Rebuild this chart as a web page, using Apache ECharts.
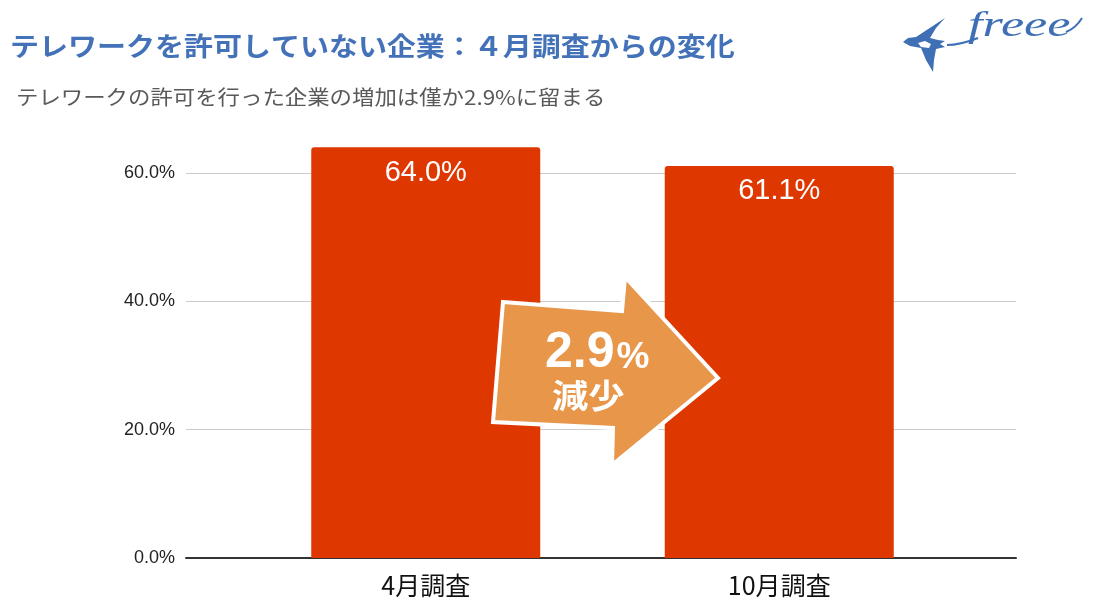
<!DOCTYPE html>
<html><head><meta charset="utf-8">
<script src="https://cdn.jsdelivr.net/npm/echarts@6/dist/echarts.min.js"></script>
<style>html,body{margin:0;padding:0;background:#fff}#c{width:1097px;height:613px}</style>
</head><body><div id="c"></div>
<script>
const titleText = 'テレワークを許可していない企業：４月調査からの変化';
const subtitleText = 'テレワークの許可を行った企業の増加は僅か2.9%に留まる';
const categories = ['4月調査', '10月調査'];
const values = [64.0, 61.1];
const yTicks = { min: 0, max: 60, interval: 20 };
const changeText = '2.9';
const changeLabel = '減少';

const chart = echarts.init(document.getElementById('c'));
const jp = '"Noto Sans CJK JP", "Noto Sans", sans-serif';
const lat = '"Liberation Sans", Arial, sans-serif';
const blue = '#3f6fb5';
chart.setOption({
  animation: false,
  grid: [
    { left: 186, right: 81, top: 173, bottom: 55 },
    { left: 249, width: 707, top: 173, bottom: 55 }
  ],
  xAxis: [
    { gridIndex: 0, type: 'category', data: [''], axisTick: { show: false }, axisLabel: { show: false },
      axisLine: { lineStyle: { color: '#333', width: 2 } } },
    { gridIndex: 1, type: 'category', data: categories, axisTick: { show: false }, axisLine: { show: false },
      axisLabel: { color: '#111', fontSize: 25, fontFamily: jp, margin: 15 } }
  ],
  yAxis: [
    { gridIndex: 0, type: 'value', min: yTicks.min, max: yTicks.max, interval: yTicks.interval,
      axisLine: { show: false }, axisTick: { show: false },
      axisLabel: { formatter: v => v.toFixed(1) + '%', color: '#222', fontSize: 18, fontFamily: lat, margin: 11 },
      splitLine: { lineStyle: { color: '#cccccc', width: 1 } } },
    { gridIndex: 1, type: 'value', min: yTicks.min, max: yTicks.max, interval: yTicks.interval, show: false }
  ],
  series: [{
    type: 'bar', xAxisIndex: 1, yAxisIndex: 1, data: values, barWidth: 229, clip: false,
    itemStyle: { color: '#de3700', borderRadius: [3, 3, 0, 0] },
    label: { show: true, position: 'insideTop', distance: 11, color: '#fff', fontSize: 29, fontFamily: lat,
      formatter: p => p.value.toFixed(1) + '%' }
  }],
  graphic: [
    { type: 'text', x: 10, y: 33, scaleX: 1.115, style: { text: titleText, fill: '#4472b8', font: 'bold 26px ' + jp, verticalAlign: 'top' } },
    { type: 'text', x: 16, y: 87, scaleX: 1.12, style: { text: subtitleText, fill: '#595959', font: '20px ' + jp, verticalAlign: 'top' } },
    { type: 'polygon', z: 100, shape: { points: [[503,302],[622,311],[625,277],[718,378],[612,465],[613,428],[493,422]] },
      style: { fill: '#e8964a', stroke: '#fff', lineWidth: 4, lineJoin: 'miter' } },
    { type: 'text', z: 101, x: 545, y: 328, style: { text: '{a|' + changeText + '}{b|%}', verticalAlign: 'top',
      rich: { a: { fontSize: 50, fontWeight: 'bold', fontFamily: lat, fill: '#fff', color: '#fff' },
              b: { fontSize: 37, fontWeight: 'bold', fontFamily: lat, fill: '#fff', color: '#fff', padding: [10, 0, 0, 2] } } } },
    { type: 'text', z: 101, x: 552, y: 379, scaleX: 1.1, style: { text: changeLabel, fill: '#fff', font: 'bold 33px ' + jp, verticalAlign: 'top' } },
    { type: 'polygon', shape: { points: [[903,42],[908,38],[916,37],[945,18],[936,28],[930,38],[938,40],[945,41],[940,44],[945,47],[936,49],[934,60],[933,72],[926,60],[921,48],[910,46]] },
      style: { fill: blue } },
    { type: 'polygon', shape: { points: [[918,43],[925,41],[931,44],[929,48],[921,47]] }, style: { fill: '#fff' } },
    { type: 'bezierCurve', shape: { x1: 947, y1: 45, cpx1: 960, cpy1: 45, x2: 978, y2: 38 }, style: { fill: 'none', stroke: blue, lineWidth: 2 } },
    { type: 'text', x: 968, y: 9, scaleX: 1.45, style: { text: 'freee', fill: blue, font: 'italic 36px "Liberation Serif", serif', verticalAlign: 'top' } },
    { type: 'bezierCurve', shape: { x1: 1066, y1: 32, cpx1: 1076, cpy1: 28, x2: 1082, y2: 18 }, style: { fill: 'none', stroke: blue, lineWidth: 2 } }
  ]
});
</script></body></html>
